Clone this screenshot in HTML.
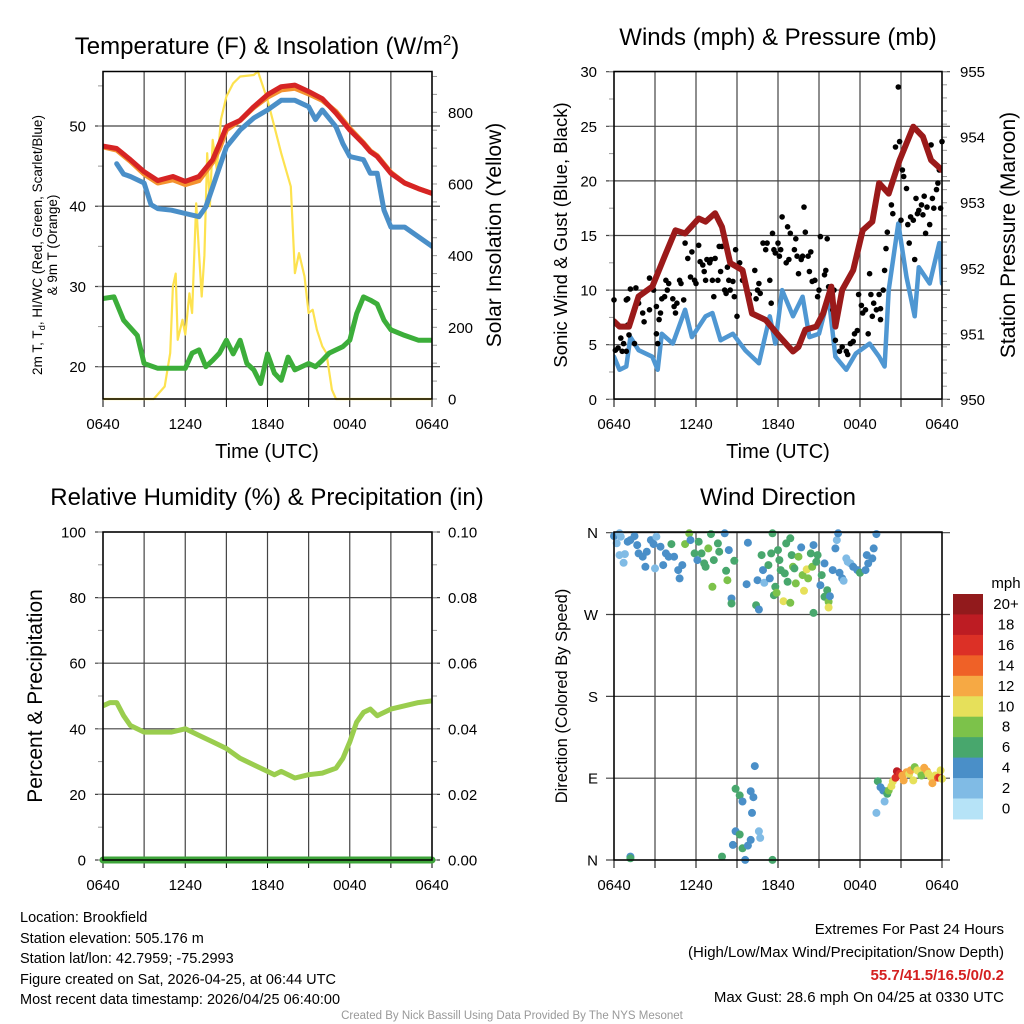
<!DOCTYPE html>
<html><head><meta charset="utf-8"><style>
body{margin:0;background:#fff;}
svg{display:block;font-family:"Liberation Sans",sans-serif;}
</style></head><body>
<svg id="root" width="1024" height="1024" viewBox="0 0 1024 1024" xmlns="http://www.w3.org/2000/svg">
<rect width="1024" height="1024" fill="#fff"/>
<text x="267" y="54" font-size="24" text-anchor="middle">Temperature (F) &amp; Insolation (W/m<tspan dy="-9" font-size="15">2</tspan><tspan dy="9">)</tspan></text>
<text x="778" y="45" font-size="24" text-anchor="middle">Winds (mph) &amp; Pressure (mb)</text>
<text x="267" y="505" font-size="24" text-anchor="middle">Relative Humidity (%) &amp; Precipitation (in)</text>
<text x="778" y="505" font-size="24" text-anchor="middle">Wind Direction</text>

<text x="267" y="458" font-size="20" text-anchor="middle">Time (UTC)</text>
<text x="778" y="458" font-size="20" text-anchor="middle">Time (UTC)</text>

<text transform="translate(42,245) rotate(-90)" font-size="13.5" text-anchor="middle">2m T, T<tspan font-size="9.5" dy="3">d</tspan><tspan dy="-3">, HI/WC (Red, Green, Scarlet/Blue)</tspan></text>
<text transform="translate(57,245) rotate(-90)" font-size="13.5" text-anchor="middle">&amp; 9m T (Orange)</text>
<text transform="translate(501,235) rotate(-90)" font-size="21" text-anchor="middle">Solar Insolation (Yellow)</text>
<text transform="translate(567,235) rotate(-90)" font-size="18.5" text-anchor="middle">Sonic Wind &amp; Gust (Blue, Black)</text>
<text transform="translate(1015,235) rotate(-90)" font-size="21" text-anchor="middle">Station Pressure (Maroon)</text>
<text transform="translate(42,696) rotate(-90)" font-size="21" text-anchor="middle">Percent &amp; Precipitation</text>
<text transform="translate(567,696) rotate(-90)" font-size="16.5" text-anchor="middle">Direction (Colored By Speed)</text>

<g font-size="14.5">
<text x="20" y="922">Location: Brookfield</text>
<text x="20" y="943">Station elevation: 505.176 m</text>
<text x="20" y="963">Station lat/lon: 42.7959; -75.2993</text>
<text x="20" y="984">Figure created on Sat, 2026-04-25, at 06:44 UTC</text>
<text x="20" y="1004">Most recent data timestamp: 2026/04/25 06:40:00</text>
</g>
<g font-size="15" text-anchor="end">
<text x="1004" y="934">Extremes For Past 24 Hours</text>
<text x="1004" y="957">(High/Low/Max Wind/Precipitation/Snow Depth)</text>
<text x="1004" y="980" fill="#d42020" font-weight="bold">55.7/41.5/16.5/0/0.2</text>
<text x="1004" y="1002">Max Gust: 28.6 mph On 04/25 at 0330 UTC</text>
</g>
<text x="512" y="1019" font-size="11.5" fill="#999" text-anchor="middle">Created By Nick Bassill Using Data Provided By The NYS Mesonet</text>
</svg>
<script>
// ---------- data ----------
const xTickLabels = ["0640","1240","1840","0040","0640"];
const tempTicks = [20,30,40,50];
const solarTicks = [0,200,400,600,800];
const windTicks = [0,5,10,15,20,25,30];
const presTicks = [950,951,952,953,954,955];
const rhTicks = [0,20,40,60,80,100];
const precipTickLabels = ["0.00","0.02","0.04","0.06","0.08","0.10"];
const dirTickLabels = ["N","E","S","W","N"];
const speedBinLabels = ["0","2","4","6","8","10","12","14","16","18","20+"];
const speedBinColors = ["#b6e3f7","#80bbe5","#4a8fc8","#48a76d","#7cc24a","#e6e05a","#f6a944","#ef6127","#dc3026","#bd1c23","#921a1c"];

const redT = [0,1,2,3,4,5.1,6,7,8,8.5,9,10,11,12,13,14,15,16,17,18,19,19.5,20,21,22,23,24];
const redV = [47.5,47.2,45.8,44.3,43.2,43.7,43.1,43.7,45.8,47.8,49.9,50.7,52.4,53.9,54.9,55.1,54.3,53.4,51.6,49.5,47.8,46.8,46.2,44.1,42.9,42.2,41.6];
const orangeV = [47.4,47.0,45.6,44.0,42.9,43.3,42.7,43.2,45.5,47.2,49.5,50.7,52.3,53.6,54.5,54.7,54.0,53.2,51.8,49.7,47.9,46.9,46.3,44.2,42.9,42.2,41.6];
const blueT = [1,1.5,2,3,3.5,4,5,6,7,7.5,8,9,10,11,12,13,14,15,15.5,16,17,17.5,18,19,19.5,20,20.5,21,22,23,24];
const blueV = [45.3,44,43.7,42.9,40.2,39.7,39.5,39.1,38.7,39.9,42.4,47.4,49.5,51,52,53.2,53.2,52.4,50.8,52,49.9,47.8,46.2,45.8,44.1,44.1,39.5,37.4,37.4,36.2,35];
const greenT = [0,0.8,1.5,2.5,3,4,5,6,6.5,7,7.5,8,8.5,9,9.5,10,10.5,11,11.5,12,12.5,13,13.5,14,15,15.5,16,16.5,17,17.5,18,18.5,19,19.5,20,20.5,21,22,23,24];
const greenV = [28.5,28.7,25.8,23.9,20.4,19.8,19.8,19.8,21.7,22.1,20,20.8,21.7,23.3,21.6,23.3,20.4,19.6,17.9,21.6,19.2,18.3,21.2,19.6,20.4,20,20.8,21.7,22.1,22.5,23.3,26.6,28.7,28.3,27.8,25.8,24.6,23.9,23.3,23.3];
const solarT = [0,3.7,4.5,4.9,5.1,5.3,5.45,5.8,6,6.3,6.5,6.8,7,7.2,7.4,7.6,7.8,8,8.3,8.6,9,9.5,10,11,11.3,12,13,13.7,14,14.3,14.7,15,15.3,15.6,16,16.3,16.7,17,24];
const solarV = [0,0,35,128,314,350,165,221,180,295,240,546,407,286,400,686,538,723,640,779,844,881,900,904,914,835,686,593,351,407,342,240,249,193,147,128,26,0,0];

const windT = [0,0.4,0.9,1.2,1.8,2.8,3.2,3.5,4.3,5.2,5.7,6.7,7.2,7.8,8.7,9.6,10.6,11.4,11.8,12.3,13.1,13.8,14.3,15,15.7,16.2,17,17.7,18.7,19.4,19.8,20.1,20.8,21.4,22,22.3,23.1,23.8,24];
const windV = [3.9,2.7,3.0,5.7,4.5,3.9,2.7,6.0,5.1,8.2,5.7,7.6,7.9,5.4,6.0,4.5,3.3,7.6,5.1,10.0,7.6,9.4,5.7,6.0,9.4,3.9,2.7,4.2,5.1,3.9,3.0,10.0,16.1,11.2,7.6,12.1,10.6,14.3,10.6];
const gustT = [0,0.1,0.3,0.5,0.6,0.7,0.9,1.0,1.1,1.5,0.9,1.0,1.2,1.6,1.8,2.1,2.2,2.6,2.6,2.9,3.1,3.1,3.2,3.3,3.4,3.5,3.7,3.8,3.9,4.0,4.3,4.4,4.5,4.6,4.8,4.9,5.1,5.2,5.4,5.6,5.7,5.9,6.0,6.2,6.3,6.5,6.6,6.7,6.8,7.0,7.1,7.2,7.3,7.4,7.6,7.7,7.8,7.9,8.1,8.2,8.3,8.4,8.5,8.7,8.8,8.9,9.0,9.2,9.4,9.6,9.9,10.3,10.4,10.5,10.6,10.7,10.9,11.1,11.2,11.4,11.5,11.6,11.7,11.8,12.0,12.1,12.2,12.3,12.6,12.7,12.8,12.9,13.2,13.3,13.4,13.5,13.7,13.8,13.9,14.0,14.2,14.3,14.4,14.5,14.7,14.9,15.0,15.1,15.4,15.5,15.6,15.7,15.9,16.0,16.1,16.2,16.5,16.7,17.0,17.1,17.3,17.5,17.6,17.8,17.9,18.1,18.2,18.4,18.6,18.7,18.8,18.9,19.0,19.2,19.4,19.5,19.5,19.7,19.8,19.9,20.0,20.3,20.4,20.6,20.8,20.9,21.0,21.1,21.2,21.4,21.5,21.6,21.7,21.9,22.0,22.1,22.2,22.3,22.5,22.6,22.7,22.8,22.9,23.1,23.2,23.3,23.4,23.6,23.7,23.8,23.9,24.0];
const gustV = [9.1,4.5,4.7,5.6,4.4,5.1,4.4,6.8,5.9,5.1,9.1,9.2,10.1,10.2,8.8,7.9,7.1,8.2,11.1,10.0,8.5,6.0,5.1,7.3,7.9,9.2,9.4,10.9,10.0,10.6,9.2,8.5,7.9,8.8,10.9,10.6,9.1,14.3,12.9,11.2,13.5,10.9,10.6,14.1,12.6,12.3,11.7,10.9,12.8,12.5,12.8,10.9,9.4,12.9,10.9,14.0,11.7,14.0,10.0,9.7,12.1,10.9,10.0,10.8,9.4,13.7,7.6,12.5,10.9,10.6,9.6,11.8,9.2,10.0,10.6,9.7,14.3,13.7,14.3,10.9,8.8,15.2,13.7,13.4,14.3,13.1,13.7,16.7,12.5,15.8,12.8,15.2,13.7,14.7,13.1,11.5,12.8,13.1,17.6,15.3,13.1,11.7,13.5,10.8,10.9,9.4,10.0,14.9,11.4,11.8,14.7,10.3,10.0,8.2,10.0,5.4,4.4,4.8,4.4,4.1,5.1,5.3,6.0,6.3,9.6,8.6,7.9,8.2,6.0,11.5,9.6,7.6,8.8,8.2,9.6,7.3,8.3,10.0,11.8,13.8,15.3,17.8,17.0,23.1,28.6,23.6,16.4,21.0,20.4,19.3,16.0,14.3,16.7,16.4,12.8,18.4,17.0,17.3,17.8,16.9,18.6,15.2,17.6,16.0,23.3,18.4,17.5,19.2,19.8,21.0,17.5,23.6];
const presT = [0,0.4,1.1,1.8,2.8,3.8,4.5,5.2,6.2,6.7,7.4,7.9,8.5,9.4,10.1,11.1,12.1,13.1,13.5,14.0,14.8,15.3,15.9,16.2,16.7,17.5,18.2,18.9,19.4,20.1,20.9,21.9,22.6,23.2,24];
const presV = [951.19,951.11,951.11,951.57,951.72,952.23,952.58,952.53,952.76,952.71,952.84,952.63,952.08,951.97,951.31,951.21,950.96,950.73,950.80,951.06,951.11,951.31,951.72,951.11,951.67,951.97,952.58,952.71,953.30,953.14,953.65,954.16,954.01,953.65,953.50];

const rhT = [0,0.5,1,1.5,2,3,4,5,6,7,8,9,10,11,12,12.5,13,14,15,16,17,17.5,18,18.5,19,19.5,20,21,22,23,24];
const rhV = [47,48,48,44,41,39,39,39,40,38,36,34,31,29,27,26,27,25,26,26.5,28,31,36,42,45,46,44,46,47,48,48.5];
const precipT = [0,24];
const precipV = [0,0];

const dirT = [0.0,0.4,0.5,0.2,0.4,0.7,0.8,1.0,1.2,1.5,1.7,1.8,2.1,2.3,2.4,2.7,2.9,3.1,3.0,3.4,3.6,3.8,4.0,4.2,4.4,4.7,4.8,5.0,5.2,5.5,5.6,5.9,6.1,6.2,6.4,6.6,6.7,6.9,7.1,7.2,7.3,7.6,7.7,8.1,8.2,8.3,8.4,8.6,8.6,8.8,9.7,9.8,10.4,10.6,10.5,10.8,10.9,11.0,11.3,11.4,11.5,11.6,11.7,11.8,11.9,12.0,12.1,12.2,12.4,12.5,12.6,12.7,12.9,12.9,13.0,13.1,13.2,13.3,13.5,13.7,13.8,13.9,14.1,14.2,14.4,14.5,14.6,14.6,14.8,14.9,15.1,15.2,15.4,15.4,15.6,15.7,15.7,15.8,16.0,16.2,16.3,16.4,16.5,16.7,16.8,17.0,17.1,17.3,17.5,17.8,18.0,18.4,18.5,18.6,18.9,19.0,19.2,
1.2,1.2,10.3,8.9,9.2,9.4,10.0,10.2,10.1,8.9,9.2,10.6,10.7,10.0,8.7,9.4,9.8,9.6,7.9,11.6,
19.2,19.3,19.5,19.7,19.8,20.0,20.1,20.3,20.4,20.6,20.7,20.9,21.1,21.2,21.4,21.6,21.7,21.9,22.0,22.2,22.4,22.5,22.7,22.9,23.0,23.2,23.3,23.5,23.7,23.8,23.9,24.0];
const dirV = [356.3,359.3,355.6,348.3,335.4,326.9,336.5,350.1,351.9,356.3,346.4,337.2,333.6,322.5,339.1,351.9,347.5,355.6,320.7,344.6,324.4,337.2,333.6,347.5,333.6,318.9,309.7,324.4,347.5,359.3,351.9,337.2,329.9,350.1,337.2,326.2,322.5,342.7,358.5,300.5,329.9,348.2,339.1,359.3,318.1,307.8,340.9,287.6,282.1,329.1,303.4,349.0,280.3,275.5,307.8,335.4,318.9,304.9,324.4,309.7,337.2,359.3,291.3,300.5,293.9,340.9,329.9,318.9,284.7,315.2,348.2,306.0,353.8,282.9,335.4,322.5,320.7,304.2,333.6,343.8,313.4,296.1,319.6,309.7,337.2,322.5,346.4,271.8,328.0,335.4,302.3,313.4,326.2,289.5,296.8,284.0,277.7,290.2,318.9,342.7,351.9,359.3,315.9,309.7,307.1,331.7,328.0,326.2,322.5,318.9,315.9,318.9,335.4,326.2,331.7,342.7,358.5,
3.7,1.9,103.3,78.3,71.0,64.3,75.7,69.1,51.8,31.6,28.0,31.6,24.3,22.1,16.6,12.9,15.8,0.1,3.7,0.1,
51.8,86.7,80.1,76.4,64.3,72.8,76.4,81.2,86.4,90.4,97.7,94.8,92.9,87.5,96.6,94.8,98.5,87.5,102.2,98.5,96.6,92.9,101.4,97.7,94.8,91.1,84.5,92.9,90.4,91.1,98.5,89.3];
const dirSpeed = [4,2,2,2,2,2,2,4,4,4,4,4,4,4,4,4,4,2,2,4,4,4,4,6,4,4,4,4,8,8,4,6,4,6,6,6,6,8,6,8,6,6,6,4,6,8,4,4,6,6,4,4,6,4,4,6,4,2,6,4,6,6,6,6,8,6,6,6,10,6,6,6,6,8,6,8,6,8,8,4,8,10,10,8,6,8,4,6,6,6,4,6,4,6,6,8,10,4,4,4,2,4,4,4,2,2,2,2,4,4,6,4,4,4,4,4,4,
4,6,4,6,6,4,4,4,4,4,6,2,2,4,4,6,4,4,6,6,
2,6,4,4,2,6,8,10,10,16,18,16,12,12,12,10,12,10,8,10,10,8,12,12,10,10,12,10,14,16,10,10];

// ---------- helpers ----------
const NS = "http://www.w3.org/2000/svg";
const root = document.getElementById("root");
function mk(tag, attrs, parent) {
  const e = document.createElementNS(NS, tag);
  for (const k in attrs) e.setAttribute(k, attrs[k]);
  (parent || root).appendChild(e);
  return e;
}
function lin(d0, d1, r0, r1) { return v => r0 + (v - d0) * (r1 - r0) / (d1 - d0); }

const P1 = {l:103, r:432, t:71.5, b:399};
const P2 = {l:614, r:942, t:71.5, b:399};
const P3 = {l:103, r:432, t:532, b:860};
const P4 = {l:614, r:942, t:532, b:860};

function frame(P, name, hlinesY) {
  const g = mk("g", {});
  
  
  for (let i = 0; i <= 8; i++) {
    const x = P.l + i * (P.r - P.l) / 8;
    const ln = mk("line", {x1:x, x2:x, y1:P.t, y2:P.b, stroke:"#444", "stroke-width":1.2}, g);
    
    
    const tk = mk("line", {x1:x, x2:x, y1:P.b, y2:P.b + 8, stroke:"#000", "stroke-width":1}, g);
    
    
  }
  hlinesY.forEach(y => {
    const ln = mk("line", {x1:P.l - 8, x2:P.r + 8, y1:y, y2:y, stroke:"#444", "stroke-width":1.2}, g);
    
    
  });
  xTickLabels.forEach((s, i) => {
    const x = P.l + i * (P.r - P.l) / 4;
    const t = mk("text", {x:x, y:P.b + 30, "font-size":15, "text-anchor":"middle"}, g);
    t.textContent = s;
    
    
  });
  return g;
}
function border(P, name) {
  const b = mk("rect", {x:P.l, y:P.t, width:P.r - P.l, height:P.b - P.t, fill:"none", stroke:"#000", "stroke-width":1.5});
  
  
}
function yLabels(vals, labels, sc, x, anchor, name) {
  vals.forEach((v, i) => {
    const t = mk("text", {x:x, y:sc(v) + 5.5, "font-size":15, "text-anchor":anchor});
    t.textContent = labels[i];
    
    
  });
}
function minorTicks(P, sc, from, to, step, side, name) {
  for (let v = from; v <= to + 1e-9; v += step) {
    const y = sc(v);
    if (y < P.t - 0.5 || y > P.b + 0.5) continue;
    const x0 = side === "l" ? P.l : P.r;
    const x1 = side === "l" ? P.l - 5 : P.r + 5;
    const l = mk("line", {x1:x0, x2:x1, y1:y, y2:y, stroke:"#999", "stroke-width":1});
    
    
  }
}
function polyline(ts, vs, xs, ys, color, w, name, clip) {
  const pts = ts.map((t, i) => xs(t).toFixed(1) + "," + ys(vs[i]).toFixed(1)).join(" ");
  const p = mk("polyline", {points:pts, fill:"none", stroke:color, "stroke-width":w, "stroke-linejoin":"round", "stroke-linecap":"round"});
  if (clip) p.setAttribute("clip-path", clip);
  
  
  return p;
}

const defs = mk("defs", {});
[["c1",P1],["c2",P2],["c3",P3],["c4",P4]].forEach(([id,P]) => {
  const cp = mk("clipPath", {id:id}, defs);
  mk("rect", {x:P.l, y:P.t - 3, width:P.r - P.l, height:P.b - P.t + 6}, cp);
});

// ---------- panel 1 ----------
const x1 = lin(0, 24, P1.l, P1.r);
const yT = lin(20, 50, 366.7, 126);
const yS = lin(0, 800, 399, 112.3);
frame(P1, "temp", tempTicks.map(yT));
minorTicks(P1, yT, 20, 55, 5, "l", "temp-minor-tick");
minorTicks(P1, yS, 0, 900, 50, "r", "solar-minor-tick");
yLabels(tempTicks, tempTicks.map(String), yT, 86, "end", "temp-y-tick-label");
yLabels(solarTicks, solarTicks.map(String), yS, 448, "start", "solar-y-tick-label");
polyline(solarT, solarV, x1, yS, "#fde24f", 2.2, "solar-insolation-line", "url(#c1)");
polyline(greenT, greenV, x1, yT, "#3cae3a", 5, "green-temp-line", "url(#c1)");
polyline(blueT, blueV, x1, yT, "#4a8fc8", 5, "dewpoint-line", "url(#c1)");
polyline(redT, orangeV, x1, yT, "#f4922e", 5, "9m-temp-line", "url(#c1)");
polyline(redT, redV, x1, yT, "#d62424", 5, "2m-temp-line", "url(#c1)");
border(P1, "temp");

// ---------- panel 2 ----------
const x2 = lin(0, 24, P2.l, P2.r);
const yW = lin(0, 30, 399.3, 71.7);
const yP = lin(950, 955, 399.3, 71.7);
frame(P2, "wind", windTicks.map(yW));
minorTicks(P2, yW, 0, 30, 2.5, "l", "wind-minor-tick");
minorTicks(P2, yP, 950, 955, 0.2, "r", "pressure-minor-tick");
yLabels(windTicks, windTicks.map(String), yW, 597, "end", "wind-y-tick-label");
yLabels(presTicks, presTicks.map(String), yP, 960, "start", "pressure-y-tick-label");
polyline(windT, windV, x2, yW, "#4f97d2", 4.5, "sonic-wind-line", "url(#c2)");
gustT.forEach((t, i) => {
  const c = mk("circle", {cx:x2(t).toFixed(1), cy:yW(gustV[i]).toFixed(1), r:2.8, fill:"#000"});
  
  
});
polyline(presT, presV, x2, yP, "#9b1a1a", 6, "pressure-line", "url(#c2)");
border(P2, "wind");

// ---------- panel 3 ----------
const x3 = lin(0, 24, P3.l, P3.r);
const yR = lin(0, 100, 860, 532);
frame(P3, "rh", rhTicks.map(yR));
minorTicks(P3, yR, 0, 100, 10, "l", "rh-minor-tick");
minorTicks(P3, yR, 0, 100, 10, "r", "precip-minor-tick");
yLabels(rhTicks, rhTicks.map(String), yR, 86, "end", "rh-y-tick-label");
yLabels(rhTicks, precipTickLabels, yR, 448, "start", "precip-y-tick-label");
polyline(rhT, rhV, x3, yR, "#9acd4e", 5, "relative-humidity-line", "url(#c3)");
polyline(precipT, precipV.map(v => v * 1000), x3, yR, "#3ea43a", 7, "precipitation-line", null);
border(P3, "rh");

// ---------- panel 4 ----------
const x4 = lin(0, 24, P4.l, P4.r);
const yD = lin(0, 360, 860, 532.7);
frame(P4, "wdir", [0,90,180,270,360].map(yD));
yLabels([0,90,180,270,360], dirTickLabels, yD, 598, "end", "wdir-y-tick-label");
dirT.forEach((t, i) => {
  const bin = Math.min(10, Math.floor(dirSpeed[i] / 2));
  const c = mk("circle", {cx:x4(t).toFixed(1), cy:yD(dirV[i]).toFixed(1), r:4, fill:speedBinColors[bin]});
  
  
});
border(P4, "wdir");

// colorbar
const cbTop = 594, cbH = 20.45;
const cbT = mk("text", {x:1006, y:588, "font-size":15, "text-anchor":"middle"});
cbT.textContent = "mph";


speedBinLabels.forEach((lab, i) => {
  const idx = speedBinLabels.length - 1 - i;
  const r = mk("rect", {x:953, y:cbTop + i * cbH, width:30, height:cbH + 0.5, fill:speedBinColors[idx]});
  
  
  const t = mk("text", {x:1006, y:cbTop + i * cbH + 15, "font-size":15, "text-anchor":"middle"});
  t.textContent = speedBinLabels[idx];
  
  
});
</script>
</body></html>
